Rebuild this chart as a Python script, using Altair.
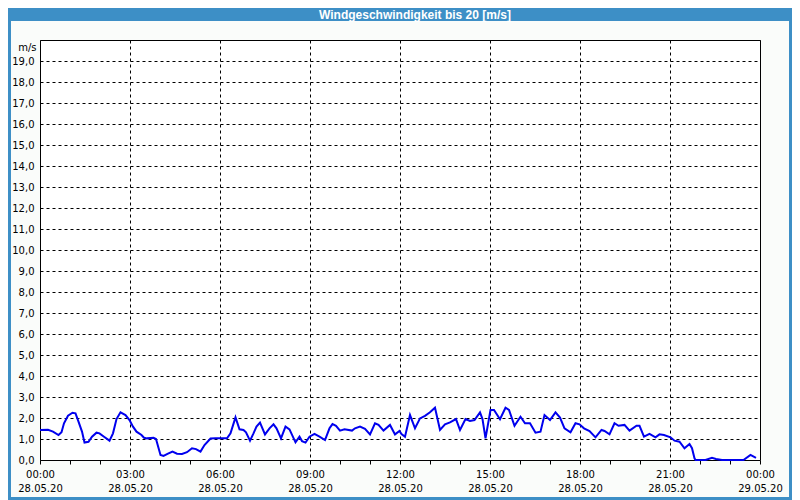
import altair as alt
import pandas as pd

# Minutes since 28.05.20 00:00 and wind speed in m/s
MINUTES = [0, 16, 26, 37, 43, 48, 56, 65, 71, 77, 84, 89, 97, 104, 113, 119, 128, 139, 146, 153,
           161, 171, 179, 186, 193, 203, 208, 214, 227, 232, 241, 247, 256, 265, 274, 284, 294, 304,
           312, 321, 329, 341, 351, 374, 381, 391, 399, 407, 412, 420, 427, 433, 440, 450, 459, 467,
           473, 482, 491, 499, 511, 519, 524, 531, 539, 549, 559, 570, 579, 585, 592, 600, 609, 624,
           630, 640, 650, 660, 670, 677, 687, 700, 710, 719, 723, 730, 740, 750, 760, 770, 780, 790,
           800, 810, 820, 832, 840, 851, 860, 869, 880, 885, 891, 901, 908, 920, 931, 938, 949, 961,
           970, 980, 991, 1001, 1009, 1020, 1031, 1040, 1049, 1061, 1071, 1079, 1088, 1099, 1111,
           1123, 1129, 1139, 1149, 1157, 1169, 1179, 1193, 1199, 1208, 1219, 1231, 1239, 1248, 1261,
           1269, 1279, 1289, 1299, 1304, 1309, 1311, 1331, 1344, 1352, 1364, 1407, 1421, 1432]
SPEED = [1.43, 1.44, 1.35, 1.19, 1.32, 1.75, 2.11, 2.25, 2.22, 1.83, 1.35, 0.83, 0.87, 1.11, 1.30,
         1.27, 1.11, 0.92, 1.27, 1.95, 2.27, 2.14, 1.90, 1.59, 1.35, 1.19, 1.06, 1.03, 1.06, 1.00,
         0.24, 0.19, 0.30, 0.40, 0.30, 0.29, 0.37, 0.56, 0.52, 0.40, 0.71, 1.02, 1.03, 1.03, 1.27,
         2.03, 1.46, 1.43, 1.32, 0.92, 1.27, 1.59, 1.78, 1.22, 1.51, 1.70, 1.51, 1.03, 1.59, 1.46,
         0.84, 1.11, 0.90, 0.83, 1.11, 1.24, 1.11, 0.95, 1.51, 1.71, 1.63, 1.40, 1.46, 1.40, 1.51,
         1.59, 1.48, 1.22, 1.75, 1.67, 1.40, 1.67, 1.22, 1.38, 1.24, 1.11, 2.14, 1.51, 1.98, 2.10,
         2.27, 2.49, 1.43, 1.70, 1.79, 1.95, 1.43, 1.95, 1.86, 1.90, 2.27, 1.95, 1.03, 2.38, 2.38,
         1.94, 2.49, 2.38, 1.63, 2.06, 1.75, 1.75, 1.30, 1.35, 2.14, 1.90, 2.27, 2.02, 1.51, 1.32,
         1.75, 1.70, 1.51, 1.38, 1.08, 1.43, 1.38, 1.22, 1.75, 1.63, 1.67, 1.40, 1.63, 1.63, 1.11,
         1.24, 1.08, 1.22, 1.19, 1.08, 0.92, 0.87, 0.56, 0.76, 0.56, 0.08, 0.00, 0.00, 0.10, 0.05,
         0.00, 0.00, 0.24, 0.10]

Y_TICKS = list(range(0, 20))
X_TICK_HOURS = list(range(0, 25))
TITLE = "Windgeschwindigkeit bis 20 [m/s]"

df = pd.DataFrame({
    "Zeit": pd.Timestamp("2020-05-28") + pd.to_timedelta(MINUTES, unit="m"),
    "Wind": SPEED,
})

FONT = "DejaVu Sans"
W, H = 720, 420
BLUE = "#3d8fc6"

x_values = [alt.DateTime(year=2020, month=5, date=28 + h // 24, hours=h % 24) for h in X_TICK_HOURS]

x_axis = alt.Axis(
    values=x_values,
    labelExpr="hours(datum.value) % 3 == 0 ? [timeFormat(datum.value, '%H:%M'), timeFormat(datum.value, '%d.%m.%y')] : ''",
    grid=True, gridColor="black", gridDash=[3, 3], gridWidth=1,
    gridOpacity={"condition": {"test": "hours(datum.value) % 3 == 0", "value": 1}, "value": 0},
    tickSize=4, tickColor="black", domain=False,
    labelFlush=False, labelOverlap=False, labelBound=False,
    labelPadding=5, labelFont=FONT, labelFontSize=10, labelColor="black",
    labelLineHeight=14.5, labelBaseline="top", title=None,
)

y_axis = alt.Axis(
    values=Y_TICKS,
    labelExpr="replace(format(datum.value, '.1f'), '.', ',')",
    grid=True, gridColor="black", gridDash=[3, 3], gridWidth=1,
    tickSize=0, domain=False, labelPadding=6,
    labelFont=FONT, labelFontSize=10, labelColor="black",
    title="m/s", titleAngle=0, titleAlign="right", titleBaseline="middle",
    titleX=-4, titleY=7, titleFont=FONT, titleFontSize=10, titleFontWeight="normal",
    titleColor="black",
)

line = alt.Chart(df).mark_line(color="#0000ee", strokeWidth=2, interpolate="linear").encode(
    x=alt.X("Zeit:T", axis=x_axis,
            scale=alt.Scale(domain=[alt.DateTime(year=2020, month=5, date=28, hours=0),
                                    alt.DateTime(year=2020, month=5, date=29, hours=0)], nice=False)),
    y=alt.Y("Wind:Q", axis=y_axis, scale=alt.Scale(domain=[0, 20], nice=False)),
)

title_df = pd.DataFrame({"t": [TITLE]})
frame = alt.Chart(title_df).mark_rect(filled=False, stroke=BLUE, strokeWidth=3).encode(
    x=alt.value(-30.5), x2=alt.value(W + 30.5), y=alt.value(-30), y2=alt.value(H + 38.5)
)
bar = alt.Chart(title_df).mark_rect(color=BLUE).encode(
    x=alt.value(-32), x2=alt.value(W + 32), y=alt.value(-32), y2=alt.value(-19)
)
title = alt.Chart(title_df).mark_text(
    color="white", font="Liberation Sans", fontSize=12, fontWeight="bold", baseline="middle", align="center"
).encode(text="t:N", x=alt.value(375), y=alt.value(-25.5))

chart = alt.layer(line, frame, bar, title).properties(
    width=W, height=H,
    autosize=alt.AutoSizeParams(type="none"),
    padding={"left": 32, "top": 32, "right": 32, "bottom": 40},
    background="#fafcfa",
).configure_view(stroke="black", strokeWidth=1, fill="white")

chart.save("out.html", embed_options={"renderer": "svg", "actions": False})
